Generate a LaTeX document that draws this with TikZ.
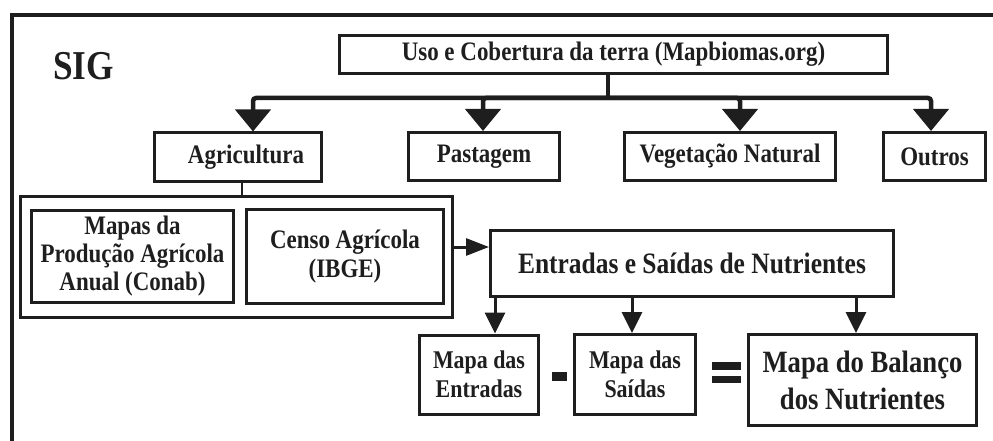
\documentclass[tikz,border=0pt]{standalone}
\usepackage{fontspec}
\setmainfont{Liberation Serif}[FakeStretch=0.86]
\usetikzlibrary{arrows.meta}
\definecolor{ink}{HTML}{1E1E1E}
\begin{document}
\begin{tikzpicture}[x=1pt,y=-1pt,
  every node/.style={text=ink},
  box/.style={draw=ink, line width=3pt, inner sep=0pt, align=center,
    font=\bfseries\fontsize{26.7}{28}\selectfont},
  bigarrow/.style={draw=ink, line width=4.5pt, rounded corners=3pt,
    -{Triangle[width=35pt,length=22pt]}},
  midarrow/.style={draw=ink, line width=3pt, -{Triangle[width=20pt,length=21pt]}},
  sidearrow/.style={draw=ink, line width=3pt, -{Triangle[width=17pt,length=23pt]}},
  thinlink/.style={draw=ink, line width=2pt},
  bar/.style={fill=ink, draw=none, inner sep=0pt}
]
\useasboundingbox (0,0) rectangle (993,441);
% frame
\draw[ink, line width=4pt] (11.5,441) -- (11.5,15) -- (993,15);
\node[anchor=base west, font=\bfseries\fontsize{41}{44}\selectfont, inner sep=0pt] (sig) at (53,80) {SIG};
% top
\node[box, minimum width=548, minimum height=38] (uso) at (613.5,54.5) {Uso e Cobertura da terra (Mapbiomas.org)};
% row 2
\node[box, minimum width=167, minimum height=48] (agri) at (238,157) {\hspace*{16pt}Agricultura};
\node[box, minimum width=151, minimum height=48] (past) at (484,156.5) {Pastagem};
\node[box, minimum width=211, minimum height=48] (veg) at (730,156.5) {Vegetação Natural};
\node[box, minimum width=102, minimum height=48] (outros) at (934.5,156.5) {Outros};
% group
\node[box, minimum width=432, minimum height=121] (group) at (236.5,257) {};
\node[box, minimum width=202, minimum height=92] (mapas) at (132.5,256) {Mapas da\\Produção Agrícola\\Anual (Conab)};
\node[box, minimum width=197, minimum height=94, font=\bfseries\fontsize{26.7}{29}\selectfont] (censo) at (345,256.5) {Censo Agrícola\\(IBGE)};
% nutrients
\node[box, minimum width=403, minimum height=66, font=\bfseries\fontsize{29.6}{30}\selectfont] (entsai) at (692,263) {Entradas e Saídas de Nutrientes};
\node[box, minimum width=119, minimum height=79, font=\bfseries\fontsize{25.5}{29}\selectfont] (ment) at (479,374.5) {Mapa das\\Entradas};
\node[box, minimum width=121, minimum height=80, font=\bfseries\fontsize{25.5}{29}\selectfont] (msai) at (635,374.5) {Mapa das\\Saídas};
\node[box, minimum width=228, minimum height=91, font=\bfseries\fontsize{31}{37}\selectfont] (bal) at (862.5,380) {Mapa do Balanço\\dos Nutrientes};
% operators
\node[bar, minimum width=15, minimum height=9] (minus) at (559.5,376.5) {};
\node[bar, minimum width=29, minimum height=8] (eqa) at (726.5,366) {};
\node[bar, minimum width=29, minimum height=7] (eqb) at (726.5,379.5) {};
% tree connectors
\coordinate (bus) at (608,98);
\draw[ink, line width=4.5pt] ([xshift=-5.5]uso.south) -- (bus);
\draw[bigarrow] (bus) -| ([xshift=15]agri.north);
\draw[bigarrow] (bus) -| ([xshift=-1]past.north);
\draw[bigarrow] (bus) -| ([xshift=10]veg.north);
\draw[bigarrow] (bus) -| ([xshift=-3.5]outros.north);
% agricultura to group
\draw[thinlink] ([xshift=4]agri.south) -- ([xshift=4]agri.south |- group.north);
% group to nutrients
\draw[sidearrow] ([yshift=10]group.east) -- ([yshift=10]group.east -| entsai.west);
% nutrients to maps
\draw[midarrow] ([xshift=16]ment.north |- entsai.south) -- ([xshift=16]ment.north);
\draw[midarrow] ([xshift=-3]msai.north |- entsai.south) -- ([xshift=-3]msai.north);
\draw[midarrow] ([xshift=-6.5]bal.north |- entsai.south) -- ([xshift=-6.5]bal.north);
\end{tikzpicture}
\end{document}
